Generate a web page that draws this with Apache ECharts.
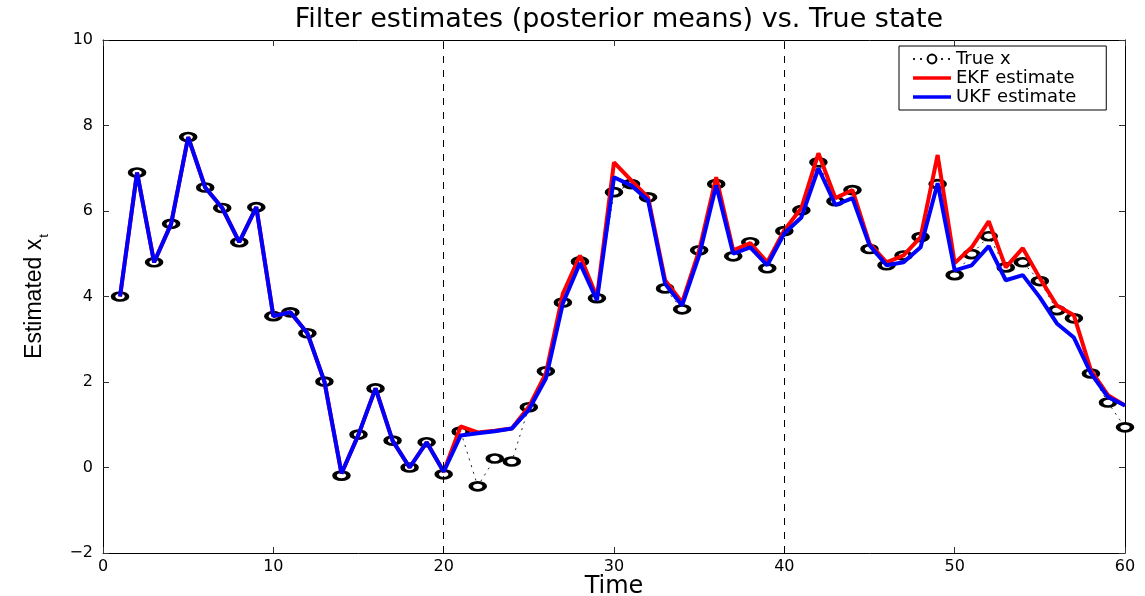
<!DOCTYPE html>
<html>
<head>
<meta charset="utf-8">
<script src="https://cdn.jsdelivr.net/npm/echarts@6/dist/echarts.min.js"></script>
<style>
html,body{margin:0;padding:0;background:#fff;}
#chart{width:1145px;height:596px;}
</style>
</head>
<body>
<div id="chart"></div>
<script>
const timeSteps = [1,2,3,4,5,6,7,8,9,10,11,12,13,14,15,16,17,18,19,20,21,22,23,24,25,26,27,28,29,30,31,32,33,34,35,36,37,38,39,40,41,42,43,44,45,46,47,48,49,50,51,52,53,54,55,56,57,58,59,60];
const trueX = [4.0,6.9,4.8,5.7,7.73,6.55,6.07,5.27,6.09,3.54,3.63,3.14,2.01,-0.19,0.77,1.85,0.63,0.0,0.59,-0.16,
  0.84,-0.44,0.21,0.14,1.41,2.25,3.86,4.82,3.96,6.44,6.63,6.32,4.19,3.70,5.08,6.63,4.94,5.27,4.66,5.53,
  6.02,7.14,6.23,6.49,5.11,4.73,4.96,5.39,6.63,4.50,4.99,5.41,4.68,4.80,4.36,3.68,3.49,2.20,1.52,0.94];
const ekfEstimate = [4.0,6.9,4.8,5.7,7.73,6.55,6.07,5.27,6.09,3.54,3.63,3.14,2.01,-0.14,0.77,1.85,0.63,0.0,0.59,-0.1,
  0.96,0.82,0.86,0.91,1.42,2.2,4.07,4.96,3.98,7.14,6.72,6.32,4.38,3.86,5.08,6.79,5.08,5.25,4.8,5.55,
  6.07,7.35,6.3,6.49,5.24,4.8,4.96,5.39,7.31,4.78,5.15,5.76,4.68,5.13,4.43,3.79,3.56,2.27,1.69,1.45];
const ukfEstimate = [4.0,6.9,4.8,5.7,7.73,6.55,6.07,5.27,6.09,3.54,3.63,3.14,2.01,-0.14,0.77,1.85,0.63,0.0,0.59,-0.1,
  0.75,0.8,0.85,0.91,1.35,2.08,3.84,4.78,3.91,6.79,6.6,6.25,4.3,3.79,4.96,6.6,5.0,5.15,4.73,5.48,
  5.85,7.0,6.14,6.3,5.2,4.73,4.8,5.15,6.65,4.61,4.73,5.18,4.38,4.5,3.98,3.37,3.04,2.2,1.65,1.45];
const splitTimes = [20, 40];
const seriesNames = ['True x', 'EKF estimate', 'UKF estimate'];

const pairs = arr => timeSteps.map((t, i) => [t, arr[i]]);
const wideFont = 'DejaVu Sans';
const baseFont = 'Liberation Sans';
const lineIcon = 'path://M0,0h38v3.5h-38z';

const chart = echarts.init(document.getElementById('chart'));
const axisCommon = {
  axisLine: {show: true, onZero: false, lineStyle: {color: '#000', width: 1}},
  axisTick: {show: true, inside: true, length: 6, lineStyle: {color: '#333', width: 1}},
  splitLine: {show: false}
};
chart.setOption({
  animation: false,
  backgroundColor: '#fff',
  title: {
    text: 'Filter estimates (posterior means) vs. True state',
    left: 614, textAlign: 'center', top: 1,
    textStyle: {fontFamily: wideFont, fontSize: 27, fontWeight: 'normal', color: '#000'}
  },
  legend: {
    data: [
      {name: seriesNames[0]},
      {name: seriesNames[1], icon: lineIcon},
      {name: seriesNames[2], icon: lineIcon}
    ],
    orient: 'vertical',
    left: 899, top: 46,
    padding: [4, 30, 4, 13],
    itemWidth: 38, itemHeight: 11, itemGap: 1, itemTextGap: 14,
    symbolKeepAspect: true,
    borderColor: '#000', borderWidth: 1, backgroundColor: '#fff',
    textStyle: {fontFamily: wideFont, fontSize: 18, lineHeight: 17, color: '#000'}
  },
  grid: {left: 103, right: 20, top: 40, bottom: 43, containLabel: false, outerBoundsMode: 'none'},
  xAxis: [
    Object.assign({
      type: 'value', min: 0, max: 60, interval: 10, position: 'bottom',
      name: 'Time', nameLocation: 'middle', nameGap: 22, nameMoveOverlap: false,
      nameTextStyle: {fontFamily: wideFont, fontSize: 24, color: '#000'},
      axisLabel: {fontFamily: wideFont, fontSize: 16, color: '#000', margin: 6}
    }, axisCommon),
    Object.assign({
      type: 'value', min: 0, max: 60, interval: 10, position: 'top',
      axisLabel: {show: false}
    }, axisCommon)
  ],
  yAxis: [
    Object.assign({
      type: 'value', min: -2, max: 10, interval: 2, position: 'left',
      name: '{a|Estimated x}{b|t}', nameLocation: 'middle', nameGap: 52, nameRotate: 90,
      nameMoveOverlap: false,
      nameTextStyle: {
        color: '#000',
        rich: {
          a: {fontFamily: baseFont, fontSize: 23, color: '#000'},
          b: {fontFamily: baseFont, fontSize: 13, color: '#000', padding: [20, 0, 0, 1]}
        }
      },
      axisLabel: {fontFamily: wideFont, fontSize: 16, color: '#000', margin: 10,
        formatter: v => String(v).replace('-', '\u2212')}
    }, axisCommon),
    Object.assign({
      type: 'value', min: -2, max: 10, interval: 2, position: 'right',
      axisLabel: {show: false}
    }, axisCommon)
  ],
  series: [
    {
      name: seriesNames[0], type: 'line', data: pairs(trueX),
      symbol: 'path://M0,5 A5,5 0 1,1 10,5 A5,5 0 1,1 0,5 Z',
      symbolSize: [14, 8], symbolKeepAspect: false,
      itemStyle: {color: '#fff', borderColor: '#000', borderWidth: 3.5},
      lineStyle: {color: '#222', width: 1, type: [2, 5]},
      z: 2,
      markLine: {
        silent: true, symbol: 'none', label: {show: false},
        lineStyle: {color: '#000', width: 1, type: [7, 7]},
        data: splitTimes.map(t => ({xAxis: t}))
      }
    },
    {
      name: seriesNames[1], type: 'line', data: pairs(ekfEstimate),
      symbol: 'none', lineStyle: {color: '#ff0000', width: 4}, itemStyle: {color: '#ff0000'}, z: 3
    },
    {
      name: seriesNames[2], type: 'line', data: pairs(ukfEstimate),
      symbol: 'none', lineStyle: {color: '#0000ff', width: 4}, itemStyle: {color: '#0000ff'}, z: 4
    }
  ]
});
</script>
</body>
</html>
